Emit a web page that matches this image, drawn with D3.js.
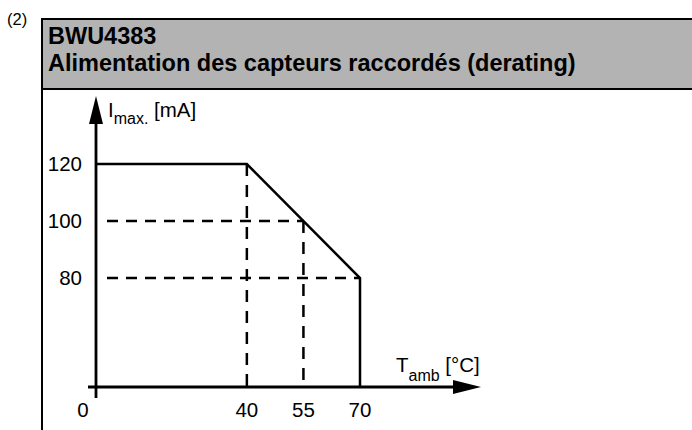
<!DOCTYPE html>
<html><head><meta charset="utf-8">
<script src="https://cdn.jsdelivr.net/npm/d3@7"></script>
<style>body{margin:0;background:#fff}svg{display:block}text{font-family:"Liberation Sans",Arial,sans-serif}</style>
</head><body>
<script>
// ---- data ----
const figureNumber = "(2)";
const titleLines = ["BWU4383", "Alimentation des capteurs raccordés (derating)"];
const xTickValues = [0, 40, 55, 70];
const yTickValues = [80, 100, 120];
const curveT = [0, 40, 70];        // °C
const curveI = [120, 120, 80];     // mA
const guideH = [{t: 55, i: 100}, {t: 70, i: 80}]; // horizontal dashed guides to y-axis
const guideV = [{t: 40, i: 120}, {t: 55, i: 100}]; // vertical dashed guides down to x-axis

const W = 692, H = 430;
const svg = d3.select("body").append("svg").attr("width", W).attr("height", H);

// header
svg.append("text").attr("x", 7).attr("y", 25).attr("font-size", 16.5).text(figureNumber);
svg.append("rect").attr("x", 42).attr("y", 19).attr("width", 700).attr("height", 70)
  .attr("fill", "#b3b3b3").attr("stroke", "#000").attr("stroke-width", 2);
svg.append("line").attr("x1", 42).attr("x2", 42).attr("y1", 89).attr("y2", H)
  .attr("stroke", "#000").attr("stroke-width", 2);
titleLines.forEach((t, k) => {
  svg.append("text").attr("x", 48).attr("y", 44 + k * 27).attr("font-size", 23.5)
    .attr("font-weight", "bold").text(t);
});

// scales
const x = d3.scaleLinear().domain([0, 70]).range([96, 360]);
const y = d3.scaleLinear().domain([80, 120]).range([278, 164]);
const axisY = 387;   // pixel row of the temperature axis
const axisTop = 96;  // top of current axis arrow
const axisRight = 481;

const g = svg.append("g");

// dashed guides
guideH.forEach(d => {
  g.append("line").attr("x1", x(0) + 11).attr("x2", x(d.t)).attr("y1", y(d.i)).attr("y2", y(d.i))
    .attr("stroke", "#000").attr("stroke-width", 2.5).attr("stroke-dasharray", "11,8");
});
guideV.forEach(d => {
  g.append("line").attr("x1", x(d.t)).attr("x2", x(d.t)).attr("y1", y(d.i)).attr("y2", axisY)
    .attr("stroke", "#000").attr("stroke-width", 2.5).attr("stroke-dasharray", "12,9");
});

// derating curve
const pts = curveT.map((t, k) => [x(t), y(curveI[k])]);
pts.push([x(curveT[curveT.length - 1]), axisY]);
g.append("path").attr("d", d3.line()(pts)).attr("fill", "none")
  .attr("stroke", "#000").attr("stroke-width", 2.5).attr("stroke-linejoin", "miter");

// axes lines
g.append("line").attr("x1", x(0)).attr("x2", x(0)).attr("y1", axisTop + 20).attr("y2", axisY + 11)
  .attr("stroke", "#000").attr("stroke-width", 2.8);
g.append("line").attr("x1", x(0) - 8).attr("x2", axisRight - 20).attr("y1", axisY).attr("y2", axisY)
  .attr("stroke", "#000").attr("stroke-width", 2.8);
// arrows
g.append("path").attr("d", `M${x(0)},${axisTop} L${x(0) - 7},${axisTop + 28} L${x(0) + 7},${axisTop + 28} Z`);
g.append("path").attr("d", `M${axisRight},${axisY} L${axisRight - 28},${axisY - 7} L${axisRight - 28},${axisY + 7} Z`);

// tick labels
g.selectAll(".yt").data(yTickValues).join("text").attr("class", "yt")
  .attr("x", 82).attr("y", d => y(d)).attr("dy", "0.36em").attr("text-anchor", "end")
  .attr("font-size", 20.5).text(d => d);
g.selectAll(".xt").data(xTickValues).join("text").attr("class", "xt")
  .attr("x", d => d === 0 ? x(d) - 13 : x(d)).attr("y", 417).attr("text-anchor", "middle")
  .attr("font-size", 20.5).text(d => d);

// axis titles
const yl = g.append("text").attr("x", 108).attr("y", 117).attr("font-size", 20.5);
yl.append("tspan").text("I");
yl.append("tspan").attr("dy", 7).attr("font-size", 16).text("max.");
yl.append("tspan").attr("dy", -7).text(" [mA]");
const xl = g.append("text").attr("x", 396).attr("y", 372).attr("font-size", 20.5);
xl.append("tspan").text("T");
xl.append("tspan").attr("dy", 9).attr("font-size", 16).text("amb");
xl.append("tspan").attr("dy", -9).text(" [°C]");
</script>
</body></html>
